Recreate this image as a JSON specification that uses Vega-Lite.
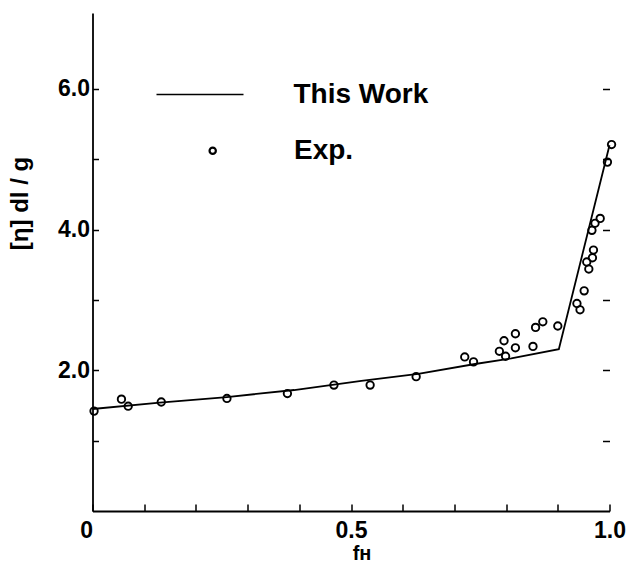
{
  "$schema": "https://vega.github.io/schema/vega-lite/v6.json",
  "width": 517,
  "height": 498,
  "autosize": {"type": "none"},
  "padding": {"left": 92.5, "top": 13, "right": 18.5, "bottom": 56},
  "background": "white",
  "config": {
    "view": {"stroke": null},
    "font": "Liberation Sans",
    "axis": {
      "grid": false,
      "domainColor": "black",
      "domainWidth": 1.8,
      "tickColor": "black",
      "tickWidth": 1.5,
      "labelColor": "black",
      "labelFont": "Liberation Sans",
      "labelFontWeight": "bold",
      "labelFontSize": 23,
      "titleColor": "black",
      "titleFont": "Liberation Sans",
      "titleFontWeight": "bold"
    }
  },
  "datasets": {
    "theory": [
      {"f": 0.0, "eta": 1.45, "series": "This Work"},
      {"f": 0.13, "eta": 1.54, "series": "This Work"},
      {"f": 0.26, "eta": 1.62, "series": "This Work"},
      {"f": 0.39, "eta": 1.72, "series": "This Work"},
      {"f": 0.52, "eta": 1.85, "series": "This Work"},
      {"f": 0.63, "eta": 1.95, "series": "This Work"},
      {"f": 0.74, "eta": 2.09, "series": "This Work"},
      {"f": 0.81, "eta": 2.17, "series": "This Work"},
      {"f": 0.902, "eta": 2.3, "series": "This Work"},
      {"f": 1.0, "eta": 5.2, "series": "This Work"}
    ],
    "exp": [
      {"f": 0.003, "eta": 1.42, "series": "Exp."},
      {"f": 0.056, "eta": 1.59, "series": "Exp."},
      {"f": 0.069, "eta": 1.49, "series": "Exp."},
      {"f": 0.133, "eta": 1.55, "series": "Exp."},
      {"f": 0.26, "eta": 1.6, "series": "Exp."},
      {"f": 0.377, "eta": 1.67, "series": "Exp."},
      {"f": 0.467, "eta": 1.79, "series": "Exp."},
      {"f": 0.537, "eta": 1.79, "series": "Exp."},
      {"f": 0.626, "eta": 1.91, "series": "Exp."},
      {"f": 0.72, "eta": 2.19, "series": "Exp."},
      {"f": 0.737, "eta": 2.12, "series": "Exp."},
      {"f": 0.787, "eta": 2.27, "series": "Exp."},
      {"f": 0.799, "eta": 2.2, "series": "Exp."},
      {"f": 0.796, "eta": 2.42, "series": "Exp."},
      {"f": 0.818, "eta": 2.52, "series": "Exp."},
      {"f": 0.818, "eta": 2.32, "series": "Exp."},
      {"f": 0.852, "eta": 2.34, "series": "Exp."},
      {"f": 0.857, "eta": 2.61, "series": "Exp."},
      {"f": 0.871, "eta": 2.69, "series": "Exp."},
      {"f": 0.9, "eta": 2.63, "series": "Exp."},
      {"f": 0.937, "eta": 2.95, "series": "Exp."},
      {"f": 0.943, "eta": 2.86, "series": "Exp."},
      {"f": 0.951, "eta": 3.13, "series": "Exp."},
      {"f": 0.956, "eta": 3.54, "series": "Exp."},
      {"f": 0.96, "eta": 3.44, "series": "Exp."},
      {"f": 0.967, "eta": 3.6, "series": "Exp."},
      {"f": 0.969, "eta": 3.71, "series": "Exp."},
      {"f": 0.966, "eta": 3.99, "series": "Exp."},
      {"f": 0.972, "eta": 4.09, "series": "Exp."},
      {"f": 0.982, "eta": 4.16, "series": "Exp."},
      {"f": 0.996, "eta": 4.96, "series": "Exp."},
      {"f": 1.004, "eta": 5.21, "series": "Exp."}
    ]
  },
  "layer": [
    {
      "data": {"name": "theory"},
      "mark": {"type": "line", "strokeWidth": 1.8, "clip": false},
      "encoding": {
        "x": {
          "field": "f",
          "type": "quantitative",
          "scale": {"domain": [0, 1], "nice": false, "zero": false},
          "axis": {
            "orient": "bottom",
            "values": [0, 0.1, 0.2, 0.3, 0.4, 0.5, 0.6, 0.7, 0.8, 0.9, 1.0],
            "labelExpr": "datum.value == 0 ? '0' : datum.value == 0.5 ? '0.5' : datum.value == 1 ? '1.0' : ''",
            "labelAlign": {"condition": {"test": "datum.value == 0", "value": "right"}, "value": "center"},
            "tickSize": -7,
            "labelPadding": 15,
            "labelFlush": false,
            "labelOverlap": false,
            "title": "fʜ",
            "titleFontSize": 20,
            "titleX": 269,
            "titleY": 42,
            "titleBaseline": "middle",
            "titleAlign": "center"
          }
        },
        "y": {
          "field": "eta",
          "type": "quantitative",
          "scale": {"domain": [0, 7.08], "nice": false, "zero": true},
          "axis": {
            "orient": "left",
            "values": [1, 2, 3, 4, 5, 6],
            "labelExpr": "datum.value % 2 == 0 ? format(datum.value, '.1f') : ''",
            "tickSize": -6,
            "labelPadding": 9,
            "labelOverlap": false,
            "title": "[η]   dl / g",
            "titleFontSize": 24,
            "titleAngle": -90,
            "titleX": -72,
            "titleY": 190,
            "titleAlign": "center",
            "titleBaseline": "middle"
          }
        },
        "stroke": {
          "field": "series",
          "type": "nominal",
          "scale": {"range": ["black"]},
          "legend": {
            "orient": "none",
            "legendX": 63,
            "legendY": 37,
            "title": null,
            "padding": 0,
            "symbolType": "stroke",
            "symbolSize": 7569,
            "symbolStrokeWidth": 1.6,
            "symbolStrokeColor": "black",
            "labelFont": "Liberation Sans",
            "labelFontWeight": "bold",
            "labelFontSize": 28,
            "labelColor": "black",
            "labelOffset": 49,
            "labelLimit": 300
          }
        }
      }
    },
    {
      "data": {"name": "exp"},
      "mark": {"type": "point", "filled": false, "color": "black", "strokeWidth": 1.9, "size": 55, "opacity": 1, "clip": false},
      "encoding": {
        "x": {"field": "f", "type": "quantitative"},
        "y": {
          "field": "eta",
          "type": "quantitative",
          "axis": {
            "orient": "right",
            "values": [1, 2, 3, 4, 5, 6],
            "labels": false,
            "domain": false,
            "tickSize": -7,
            "title": null
          }
        },
        "shape": {
          "field": "series",
          "type": "nominal",
          "scale": {"range": ["circle"]},
          "legend": {
            "orient": "none",
            "legendX": 106.2,
            "legendY": 123.7,
            "title": null,
            "padding": 0,
            "symbolSize": 40,
            "symbolStrokeWidth": 2.2,
            "symbolStrokeColor": "black",
            "symbolFillColor": "transparent",
            "labelFont": "Liberation Sans",
            "labelFontWeight": "bold",
            "labelFontSize": 28,
            "labelColor": "black",
            "labelOffset": 67.3,
            "labelLimit": 300
          }
        }
      }
    },
    {
      "mark": {"type": "rule", "color": "black", "strokeWidth": 1.8},
      "encoding": {
        "x": {"datum": 1, "type": "quantitative"},
        "y": {"datum": 0, "type": "quantitative", "axis": null},
        "y2": {"datum": 6.88}
      }
    }
  ],
  "resolve": {"axis": {"y": "independent"}, "scale": {"y": "shared"}}
}
